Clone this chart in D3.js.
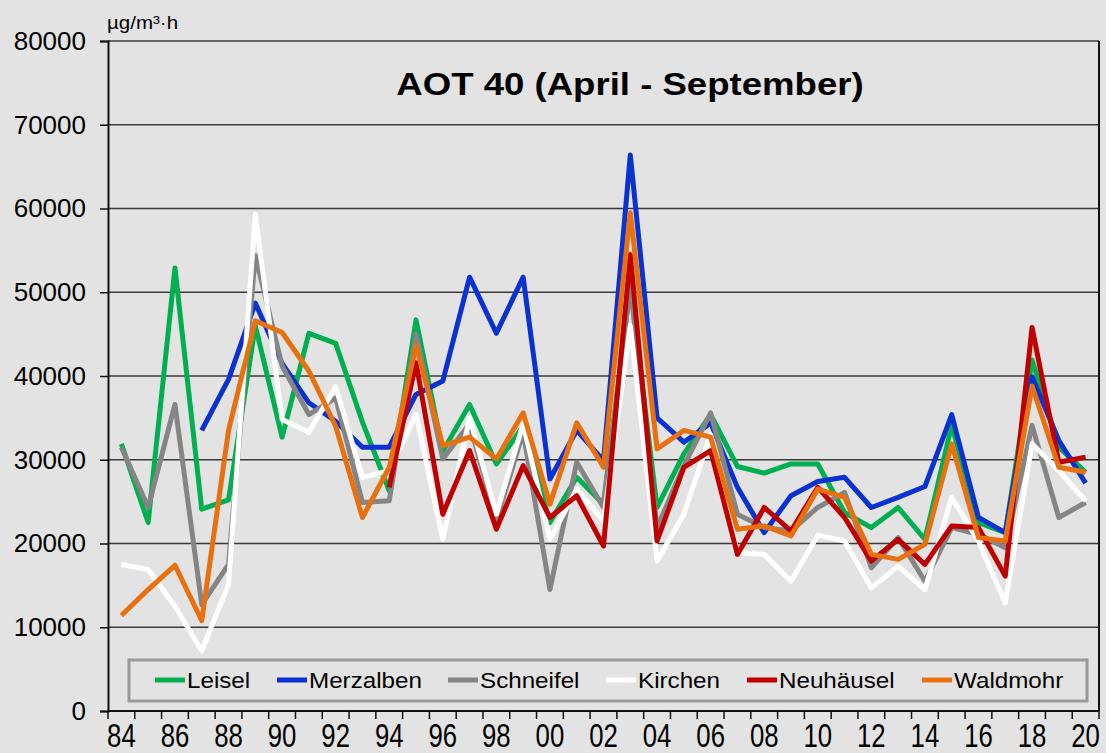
<!DOCTYPE html>
<html>
<head>
<meta charset="utf-8">
<script src="https://cdn.jsdelivr.net/npm/d3@7"></script>
<style>
  body { margin:0; background:#e3e3e3; }
  svg { display:block; font-family:"Liberation Sans", Arial, sans-serif; }
</style>
</head>
<body>
<div id="chart"></div>
<script>

// Data

var years = [1984,1985,1986,1987,1988,1989,1990,1991,1992,1993,1994,1995,1996,1997,1998,1999,2000,
             2001,2002,2003,2004,2005,2006,2007,2008,2009,2010,2011,2012,2013,2014,2015,2016,2017,2018,2019,2020];

var leisel = [31900,22500,52900,24100,25200,46000,32700,45100,43900,34500,26300,46700,31000,36600,29500,34000,22500,
              27900,24700,50800,24300,30700,35400,29200,28400,29500,29500,23700,21900,24300,20500,34100,22500,21300,41900,31500,28500];

var merzalben = [null,null,null,33500,39600,48700,41500,36800,34600,31500,31500,37800,39400,51800,45100,51800,27700,
                 33500,29900,66400,35000,32100,34400,26700,21300,25700,27400,27900,24300,25500,26800,35400,23100,21300,39900,32300,27200];

var schneifel = [31500,24300,36600,12700,17500,54400,41200,35400,37400,24900,25100,45000,30100,34300,22700,33300,14500,
                 29700,24300,50800,21900,29300,35600,23500,21900,21500,24300,26100,17100,20700,15500,21900,21100,19500,34100,23100,24900];

var kirchen = [17500,16900,12500,7200,15100,59300,34800,33300,38700,27900,28700,35400,20500,35000,23500,34300,20500,
               26500,22700,46000,17900,23500,33000,18900,18700,15500,21000,20300,14700,17300,14500,25500,20300,12900,31900,28700,25100];

var neuhaeusel = [null,null,null,null,null,null,null,null,null,null,26700,41600,23500,31100,21700,29300,23100,
                  25700,19700,54500,20300,29100,31100,18700,24300,21500,26700,23100,17900,20500,17500,22100,21900,16100,45800,29700,30300];

var waldmohr = [11400,14500,17400,10800,33500,46600,45200,40600,34000,23100,29100,43600,31700,32700,30100,35600,24700,
                34400,29100,59500,31300,33500,32700,21700,22100,20900,26500,25500,18700,18100,19900,31900,20700,20300,38800,29100,28500];

var seriesNames = ["Leisel","Merzalben","Schneifel","Kirchen","Neuhäusel","Waldmohr"];
var seriesColors = ["#00b050","#0a32d2","#858585","#ffffff","#c00000","#e8700f"];
var seriesValues = [leisel, merzalben, schneifel, kirchen, neuhaeusel, waldmohr];

var yTicks = [0,10000,20000,30000,40000,50000,60000,70000,80000];

// Layout

var W = 1106, H = 753;
var pLeft = 108, pRight = 1099, pTop = 41, pBottom = 711;

var svg = d3.select("#chart").append("svg")
  .attr("width", W)
  .attr("height", H);

svg.append("rect").attr("width","100%").attr("height","100%").attr("fill","#e3e3e3");

var x = d3.scaleBand().domain(years).range([pLeft, pRight]).padding(0);
var y = d3.scaleLinear().domain([0, 80000]).range([pBottom, pTop]);

// gridlines
svg.append("g").selectAll("line").data(yTicks.slice(1)).enter().append("line")
  .attr("x1", pLeft).attr("x2", pRight)
  .attr("y1", function(d){ return y(d); }).attr("y2", function(d){ return y(d); })
  .style("stroke","#3a3a3a").style("stroke-width",1.5);

// right border
svg.append("line").attr("x1", pRight).attr("x2", pRight).attr("y1", pTop).attr("y2", pBottom)
  .style("stroke","#111").style("stroke-width",2);

// y axis
var yAxis = svg.append("g")
  .attr("transform","translate("+pLeft+",0)")
  .call(d3.axisLeft(y).tickValues(yTicks).tickSize(8).tickPadding(14).tickFormat(d3.format("d")));
yAxis.select(".domain").style("stroke","#111").style("stroke-width",2);
yAxis.selectAll(".tick line").style("stroke","#111").style("stroke-width",1.5);
yAxis.selectAll("text").style("font-size","26px").style("fill","#000")
  .style("font-family","'Liberation Sans', Arial, sans-serif");

// x axis: ticks at category borders, labels every second year
var xa = svg.append("g");
xa.append("line").attr("x1", pLeft).attr("x2", pRight).attr("y1", pBottom).attr("y2", pBottom)
  .style("stroke","#111").style("stroke-width",2);
var edges = years.map(function(d){ return x(d); }).concat([pRight]);
xa.selectAll(".xt").data(edges).enter().append("line").attr("class","xt")
  .attr("x1", function(d){ return d; }).attr("x2", function(d){ return d; })
  .attr("y1", pBottom).attr("y2", pBottom + 8)
  .style("stroke","#111").style("stroke-width",1.5);
xa.selectAll(".xl").data(years.filter(function(d){ return d % 2 == 0; })).enter().append("text").attr("class","xl")
  .attr("transform", function(d){ return "translate("+(x(d) + x.bandwidth()/2)+",747)scale(0.78,1)"; })
  .attr("text-anchor","middle")
  .style("font-size","33px")
  .text(function(d){ return String(d).slice(2); });

// unit + title
svg.append("text").attr("transform","translate(107,29)scale(1.08,1)").style("font-size","19px").text("µg/m³·h");
svg.append("text").attr("transform","translate(630,95)scale(1.18,1)").attr("text-anchor","middle")
  .style("font-size","31px").style("font-weight","bold").text("AOT 40 (April - September)");

// Lines

var line = d3.line()
  .defined(function(d){ return d != null; })
  .x(function(d,i){ return x(years[i]) + x.bandwidth()/2; })
  .y(function(d){ return y(d); });

svg.append("g").selectAll("path").data(seriesValues).enter().append("path")
  .attr("d", line)
  .style("fill","none")
  .style("stroke", function(d,i){ return seriesColors[i]; })
  .style("stroke-width",5)
  .style("stroke-linejoin","round");

// Legend

var legendX = [155, 277, 448, 606, 747, 922];

svg.append("rect").attr("x",129).attr("y",660).attr("width",958).attr("height",41)
  .style("fill","#e3e3e3").style("stroke","#9a9a9a").style("stroke-width",3);

var leg = svg.append("g").selectAll("g").data(seriesNames).enter().append("g")
  .attr("transform", function(d,i){ return "translate("+legendX[i]+",680)"; });
leg.append("line").attr("x1",0).attr("x2",30).attr("y1",0).attr("y2",0)
  .style("stroke", function(d,i){ return seriesColors[i]; }).style("stroke-width",5);
leg.append("text").attr("transform","translate(32,8)scale(1.1,1)").style("font-size","22px").text(function(d){ return d; });

</script>
</body>
</html>
